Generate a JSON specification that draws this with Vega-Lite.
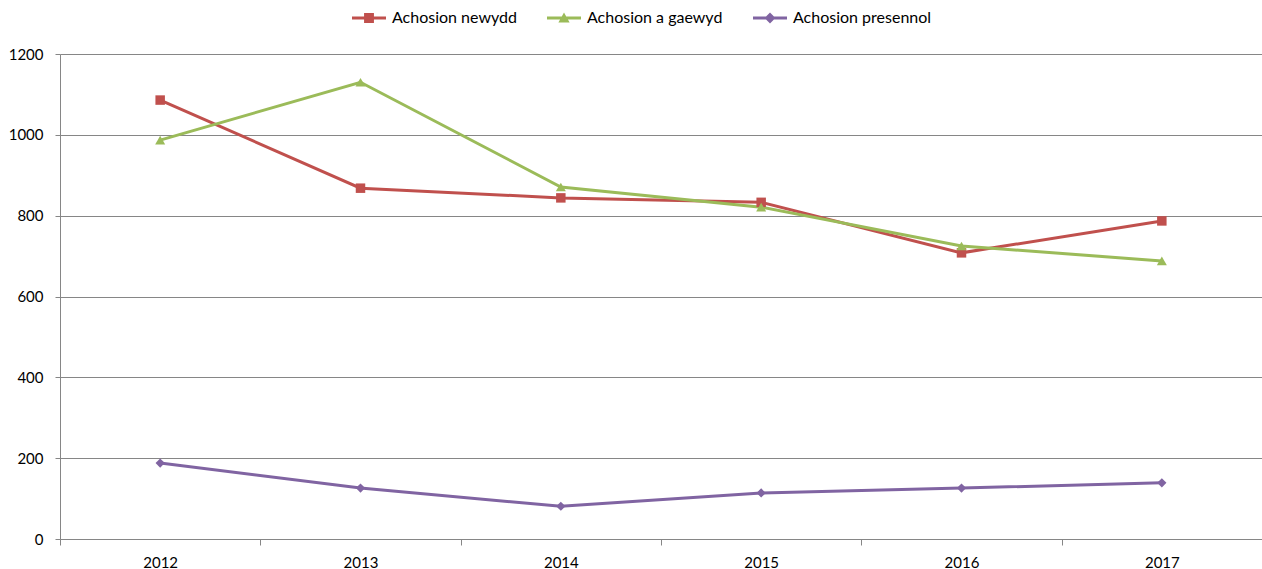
{
  "$schema": "https://vega.github.io/schema/vega-lite/v6.json",
  "width": 1202,
  "height": 485,
  "autosize": {"type": "none"},
  "padding": {"left": 60, "top": 54, "right": 0, "bottom": 30},
  "background": "white",
  "config": {
    "view": {"stroke": null},
    "font": "Lato",
    "axis": {"labelFont": "Lato", "labelFontSize": 15, "labelColor": "#000000", "domainColor": "#868686", "tickColor": "#868686", "gridColor": "#868686", "gridWidth": 1, "domainWidth": 1, "tickWidth": 1, "title": null},
    "legend": {
      "orient": "none",
      "legendX": 292,
      "legendY": -53,
      "direction": "horizontal",
      "columns": 3,
      "columnPadding": 30,
      "padding": 0,
      "symbolSize": 1156,
      "symbolStrokeWidth": 0,
      "labelOffset": 6,
      "labelFont": "Lato",
      "labelFontSize": 16,
      "labelColor": "#000000",
      "labelLimit": 300,
      "title": null
    }
  },
  "data": {
    "values": [
      {"year": "2012", "series": "Achosion newydd", "value": 1086},
      {"year": "2013", "series": "Achosion newydd", "value": 868},
      {"year": "2014", "series": "Achosion newydd", "value": 844},
      {"year": "2015", "series": "Achosion newydd", "value": 833},
      {"year": "2016", "series": "Achosion newydd", "value": 708},
      {"year": "2017", "series": "Achosion newydd", "value": 787},
      {"year": "2012", "series": "Achosion a gaewyd", "value": 987},
      {"year": "2013", "series": "Achosion a gaewyd", "value": 1130},
      {"year": "2014", "series": "Achosion a gaewyd", "value": 871},
      {"year": "2015", "series": "Achosion a gaewyd", "value": 821},
      {"year": "2016", "series": "Achosion a gaewyd", "value": 725},
      {"year": "2017", "series": "Achosion a gaewyd", "value": 688},
      {"year": "2012", "series": "Achosion presennol", "value": 188},
      {"year": "2013", "series": "Achosion presennol", "value": 126},
      {"year": "2014", "series": "Achosion presennol", "value": 81},
      {"year": "2015", "series": "Achosion presennol", "value": 114},
      {"year": "2016", "series": "Achosion presennol", "value": 126},
      {"year": "2017", "series": "Achosion presennol", "value": 139}
    ]
  },
  "encoding": {
    "x": {
      "field": "year", "type": "ordinal", "bandPosition": 0.5,
      "scale": {"type": "band", "paddingInner": 0, "paddingOuter": 0},
      "axis": {"labelAngle": 0, "tickBand": "extent", "tickSize": 6, "labelPadding": 10, "grid": false}
    },
    "y": {
      "field": "value", "type": "quantitative",
      "scale": {"domain": [0, 1200], "nice": false},
      "axis": {"values": [0, 200, 400, 600, 800, 1000, 1200], "format": "d", "tickSize": 5, "labelPadding": 12, "grid": true}
    },
    "color": {
      "field": "series", "type": "nominal",
      "scale": {"domain": ["Achosion newydd", "Achosion a gaewyd", "Achosion presennol"], "range": ["#C0504D", "#9BBB59", "#8064A2"]}
    }
  },
  "layer": [
    {
      "mark": {"type": "line", "strokeWidth": 3},
      "encoding": {"color": {"field": "series", "type": "nominal", "legend": null}}
    },
    {
      "transform": [{"filter": "datum.series === 'Achosion newydd'"}],
      "mark": {"type": "point", "filled": true, "opacity": 1, "size": 90, "shape": "square"},
      "encoding": {"color": {"field": "series", "type": "nominal", "legend": null}}
    },
    {
      "transform": [{"filter": "datum.series === 'Achosion a gaewyd'"}],
      "mark": {"type": "point", "filled": true, "opacity": 1, "size": 100, "shape": "triangle-up"},
      "encoding": {"color": {"field": "series", "type": "nominal", "legend": null}}
    },
    {
      "transform": [{"filter": "datum.series === 'Achosion presennol'"}],
      "mark": {"type": "point", "filled": true, "opacity": 1, "size": 85, "shape": "diamond"},
      "encoding": {"color": {"field": "series", "type": "nominal", "legend": null}}
    },
    {
      "transform": [{"filter": "false"}],
      "mark": {"type": "point", "filled": true, "opacity": 1},
      "encoding": {
        "color": {"field": "series", "type": "nominal"},
        "shape": {
          "field": "series", "type": "nominal",
          "scale": {"domain": ["Achosion newydd", "Achosion a gaewyd", "Achosion presennol"], "range": ["M-1,-0.088H1V0.088H-1Z M-0.29,-0.29H0.29V0.29H-0.29Z", "M-1,-0.088H1V0.088H-1Z M0,-0.33L0.33,0.26H-0.33Z", "M-1,-0.088H1V0.088H-1Z M0,-0.32L0.32,0L0,0.32L-0.32,0Z"]}
        }
      }
    }
  ],
  "resolve": {"legend": {"color": "independent", "shape": "independent"}}
}
